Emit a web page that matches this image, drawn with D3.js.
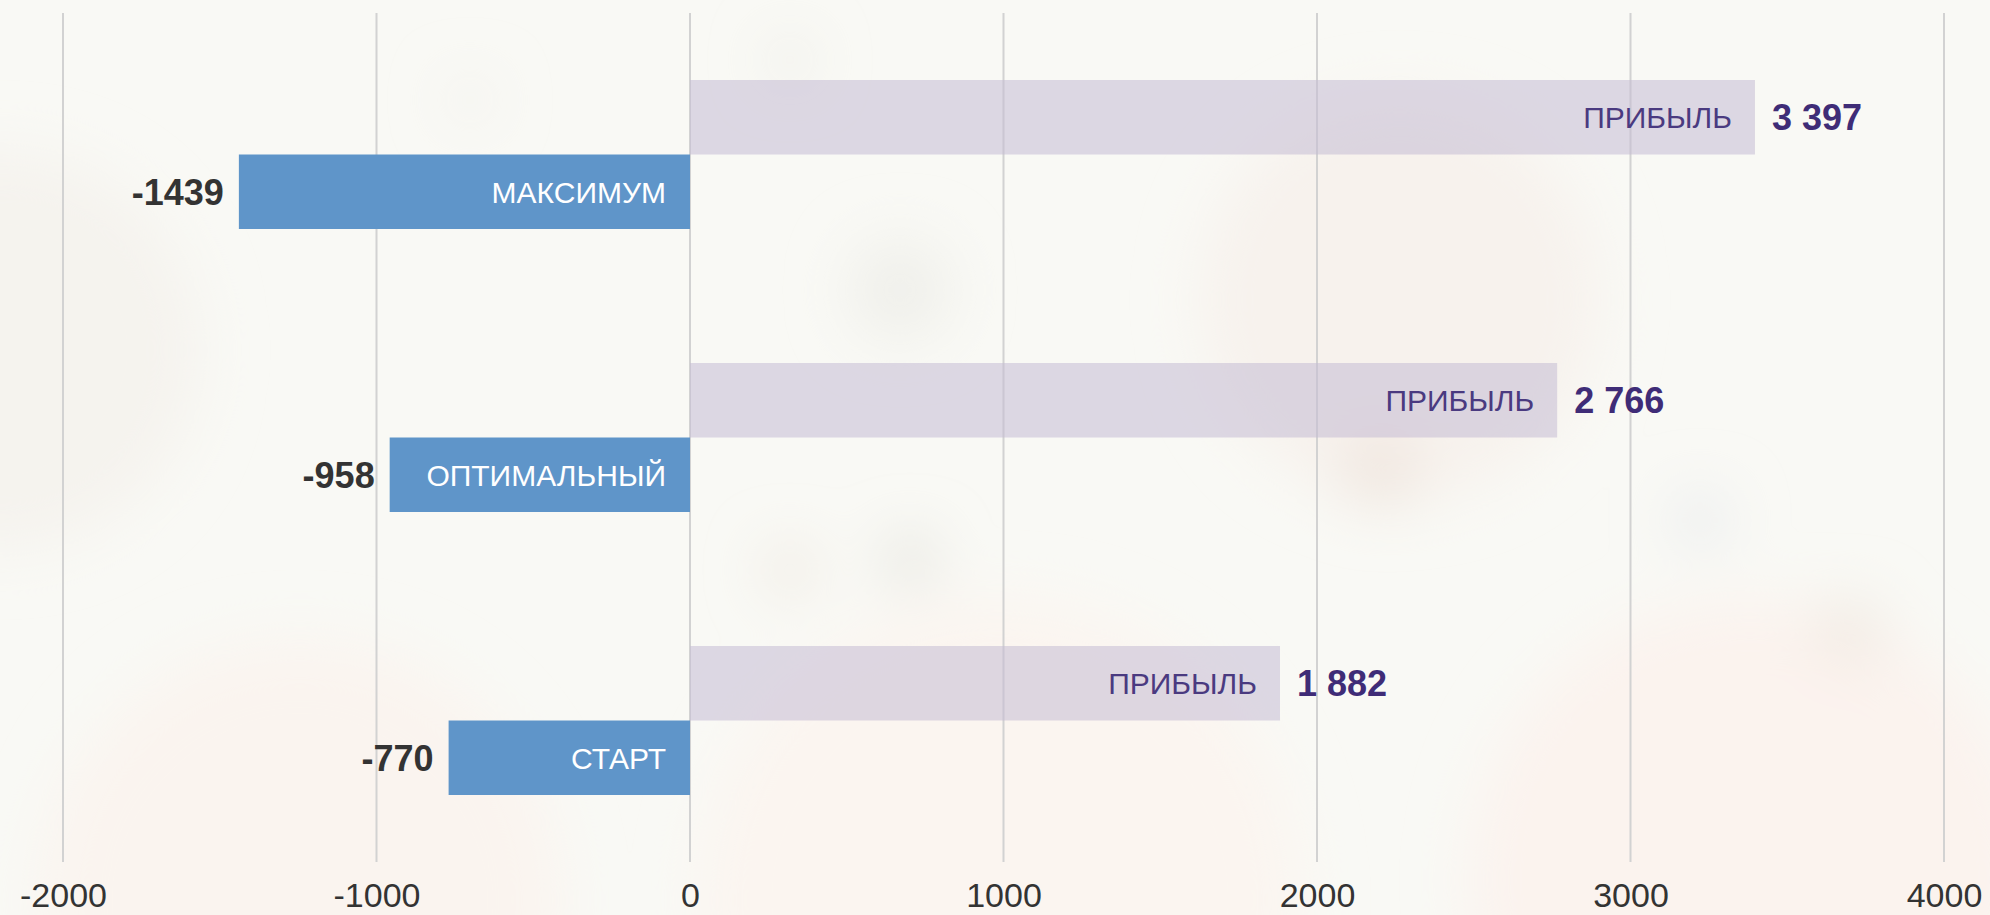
<!DOCTYPE html>
<html><head><meta charset="utf-8">
<script src="https://cdn.jsdelivr.net/npm/d3@7"></script>
<style>
html,body{margin:0;padding:0;}
body{width:1990px;height:915px;overflow:hidden;background:#f8f8f4;font-family:"Liberation Sans",Arial,Helvetica,sans-serif;}
</style></head>
<body>
<svg id="chart" width="1990" height="915"></svg>
<script>
const categories = ["МАКСИМУМ", "ОПТИМАЛЬНЫЙ", "СТАРТ"];
const costValues = [-1439, -958, -770];
const profitValues = [3397, 2766, 1882];
const profitLabel = "ПРИБЫЛЬ";
const profitText = ["3 397", "2 766", "1 882"];
const tickValues = [-2000, -1000, 0, 1000, 2000, 3000, 4000];

(function(){
const svg = d3.select("#chart");
const W = 1990, H = 915;

// soft blurred background
const defs = svg.append("defs");
const bg = defs.append("filter").attr("id","blur").attr("x","-50%").attr("y","-50%").attr("width","200%").attr("height","200%");
bg.append("feGaussianBlur").attr("stdDeviation", 30);
svg.append("rect").attr("width",W).attr("height",H).attr("fill","#f9f9f5");
const blobs = svg.append("g").attr("filter","url(#blur)");
[[0,350,200,"#f5f3ee"],[1400,300,200,"#f7f2ed"],[300,900,260,"#faf4ef"],[1750,880,280,"#fbf3ee"],[1000,900,300,"#fbf5f0"],
 [790,60,18,"#e6e5e0"],[900,290,50,"#efefea"],[790,570,22,"#ebe3da"],[910,560,22,"#dcdad3"],[1380,470,35,"#eee3db"],[1700,520,26,"#e7e9ec"],[1850,630,30,"#efe7df"],[470,100,18,"#eeece7"]]
 .forEach(b => blobs.append("circle").attr("cx",b[0]).attr("cy",b[1]).attr("r",b[2]).attr("fill",b[3]));

const x = d3.scaleLinear().domain([-2000, 4000]).range([63, 1944]);
const plotTop = 13, plotBottom = 862;
const y = d3.scaleBand().domain(categories).range([plotTop, plotBottom]).paddingInner(0).paddingOuter(0);
const barH = 74.5;

// gridlines
const grid = svg.append("g");
grid.selectAll("line").data(tickValues).join("line")
  .attr("x1", d => x(d)).attr("x2", d => x(d))
  .attr("y1", plotTop).attr("y2", plotBottom)
  .attr("stroke", "#d2d2d2").attr("stroke-width", 2);

// axis labels
const axis = d3.axisBottom(x).tickValues(tickValues).tickSize(0).tickPadding(0).tickFormat(d => String(d));
const ax = svg.append("g").attr("transform", `translate(0,${plotBottom})`).call(axis);
ax.select(".domain").remove();
ax.selectAll("text").attr("fill","#333").attr("font-size", 34)
  .attr("font-family",'"Liberation Sans",Arial,sans-serif')
  .attr("dy", null).attr("y", 45);

const g = svg.append("g");
categories.forEach((c, i) => {
  const cy = y(c) + y.bandwidth() / 2;
  // profit bar
  g.append("rect").attr("x", x(0)).attr("y", cy - barH).attr("width", x(profitValues[i]) - x(0)).attr("height", barH)
    .attr("fill", "#c4bcd3").attr("fill-opacity", 0.55);
  g.append("text").attr("x", x(profitValues[i]) - 23).attr("y", cy - barH / 2 + 11)
    .attr("text-anchor", "end").attr("font-size", 30).attr("fill", "#4a3a80").text(profitLabel);
  g.append("text").attr("x", x(profitValues[i]) + 17).attr("y", cy - barH / 2 + 13)
    .attr("font-size", 36).attr("font-weight", "bold").attr("fill", "#3f2c77").text(profitText[i]);
  // cost bar
  g.append("rect").attr("x", x(costValues[i])).attr("y", cy).attr("width", x(0) - x(costValues[i])).attr("height", barH)
    .attr("fill", "#5f95c9");
  g.append("text").attr("x", x(0) - 24).attr("y", cy + barH / 2 + 11)
    .attr("text-anchor", "end").attr("font-size", 30).attr("fill", "#ffffff").text(c);
  g.append("text").attr("x", x(costValues[i]) - 15).attr("y", cy + barH / 2 + 13)
    .attr("text-anchor", "end").attr("font-size", 36).attr("font-weight", "bold").attr("fill", "#333333").text(String(costValues[i]));
});
})();
</script>
</body></html>
